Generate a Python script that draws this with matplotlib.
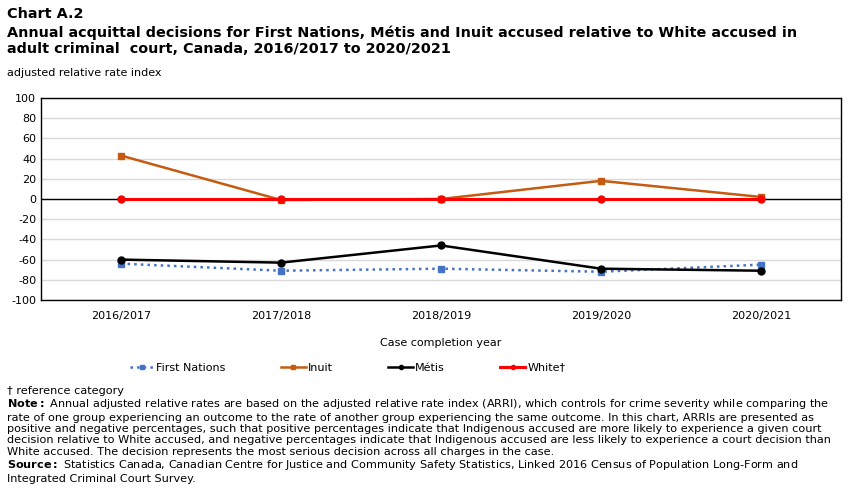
import numpy as np
import matplotlib.pyplot as plt

# data
years = ['2016/2017', '2017/2018', '2018/2019', '2019/2020', '2020/2021']
first_nations = [-64, -71, -69, -72, -65]
inuit = [43, -1, 0, 18, 2]
metis = [-60, -63, -46, -69, -71]
white = [0, 0, 0, 0, 0]

plt.rcParams['font.family'] = ['DejaVu Sans']
plt.rcParams['axes.unicode_minus'] = False
plt.rcParams['mathtext.fontset'] = 'custom'
plt.rcParams['mathtext.bf'] = 'DejaVu Sans:bold'
plt.rcParams['mathtext.rm'] = 'DejaVu Sans'

fig = plt.figure(figsize=(8.5, 4.93), dpi=100)
ax = fig.add_axes([41/850, 1 - 300/493, 800/850, 202/493])

x = np.arange(len(years))
ax.axhline(0, color='black', lw=1, zorder=2)
ax.plot(x, first_nations, color='#4472c4', ls=':', lw=1.8, marker='s', ms=5, label='First Nations', zorder=3)
ax.plot(x, inuit, color='#c55a11', lw=1.8, marker='s', ms=5, label='Inuit', zorder=3)
ax.plot(x, metis, color='black', lw=1.8, marker='o', ms=5, label='Métis', zorder=4)
ax.plot(x, white, color='#ff0000', lw=2.2, marker='o', ms=5, label='White†', zorder=5)

ax.set_xlim(-0.5, 4.5)
ax.set_ylim(-100, 100)
ax.set_yticks(range(-100, 101, 20))
ax.set_xticks(x)
ax.set_xticklabels(years)
ax.tick_params(axis='both', length=0, labelsize=8)
ax.tick_params(axis='x', pad=8)
ax.grid(axis='y', color='#d9d9d9', lw=1, zorder=0)
for s in ax.spines.values():
    s.set_color('black')
    s.set_linewidth(1)

ax.set_xlabel('Case completion year', fontsize=8, labelpad=12)
ax.legend(loc='upper center', bbox_to_anchor=(0.383, -0.26), ncol=4, frameon=False,
          fontsize=8, columnspacing=5.0, handlelength=2.2, handletextpad=0.2, markerscale=0.6)

fig.text(0.008, 0.985, 'Chart A.2', fontsize=10.4, fontweight='bold', va='top')
fig.text(0.008, 0.948, 'Annual acquittal decisions for First Nations, Métis and Inuit accused relative to White accused in\n'
         'adult criminal  court, Canada, 2016/2017 to 2020/2021', fontsize=10.4, fontweight='bold', va='top', linespacing=1.15)
fig.text(0.008, 0.862, 'adjusted relative rate index', fontsize=8, va='top')

notes = ('† reference category\n'
         r'$\bf{Note:}$ Annual adjusted relative rates are based on the adjusted relative rate index (ARRI), which controls for crime severity while comparing the' '\n'
         'rate of one group experiencing an outcome to the rate of another group experiencing the same outcome. In this chart, ARRIs are presented as\n'
         'positive and negative percentages, such that positive percentages indicate that Indigenous accused are more likely to experience a given court\n'
         'decision relative to White accused, and negative percentages indicate that Indigenous accused are less likely to experience a court decision than\n'
         'White accused. The decision represents the most serious decision across all charges in the case.\n'
         r'$\bf{Source:}$ Statistics Canada, Canadian Centre for Justice and Community Safety Statistics, Linked 2016 Census of Population Long-Form and' '\n'
         'Integrated Criminal Court Survey.')
fig.text(0.008, 0.218, notes, fontsize=8.1, va='top', linespacing=1.17)

fig.savefig('out.png', dpi=100)
